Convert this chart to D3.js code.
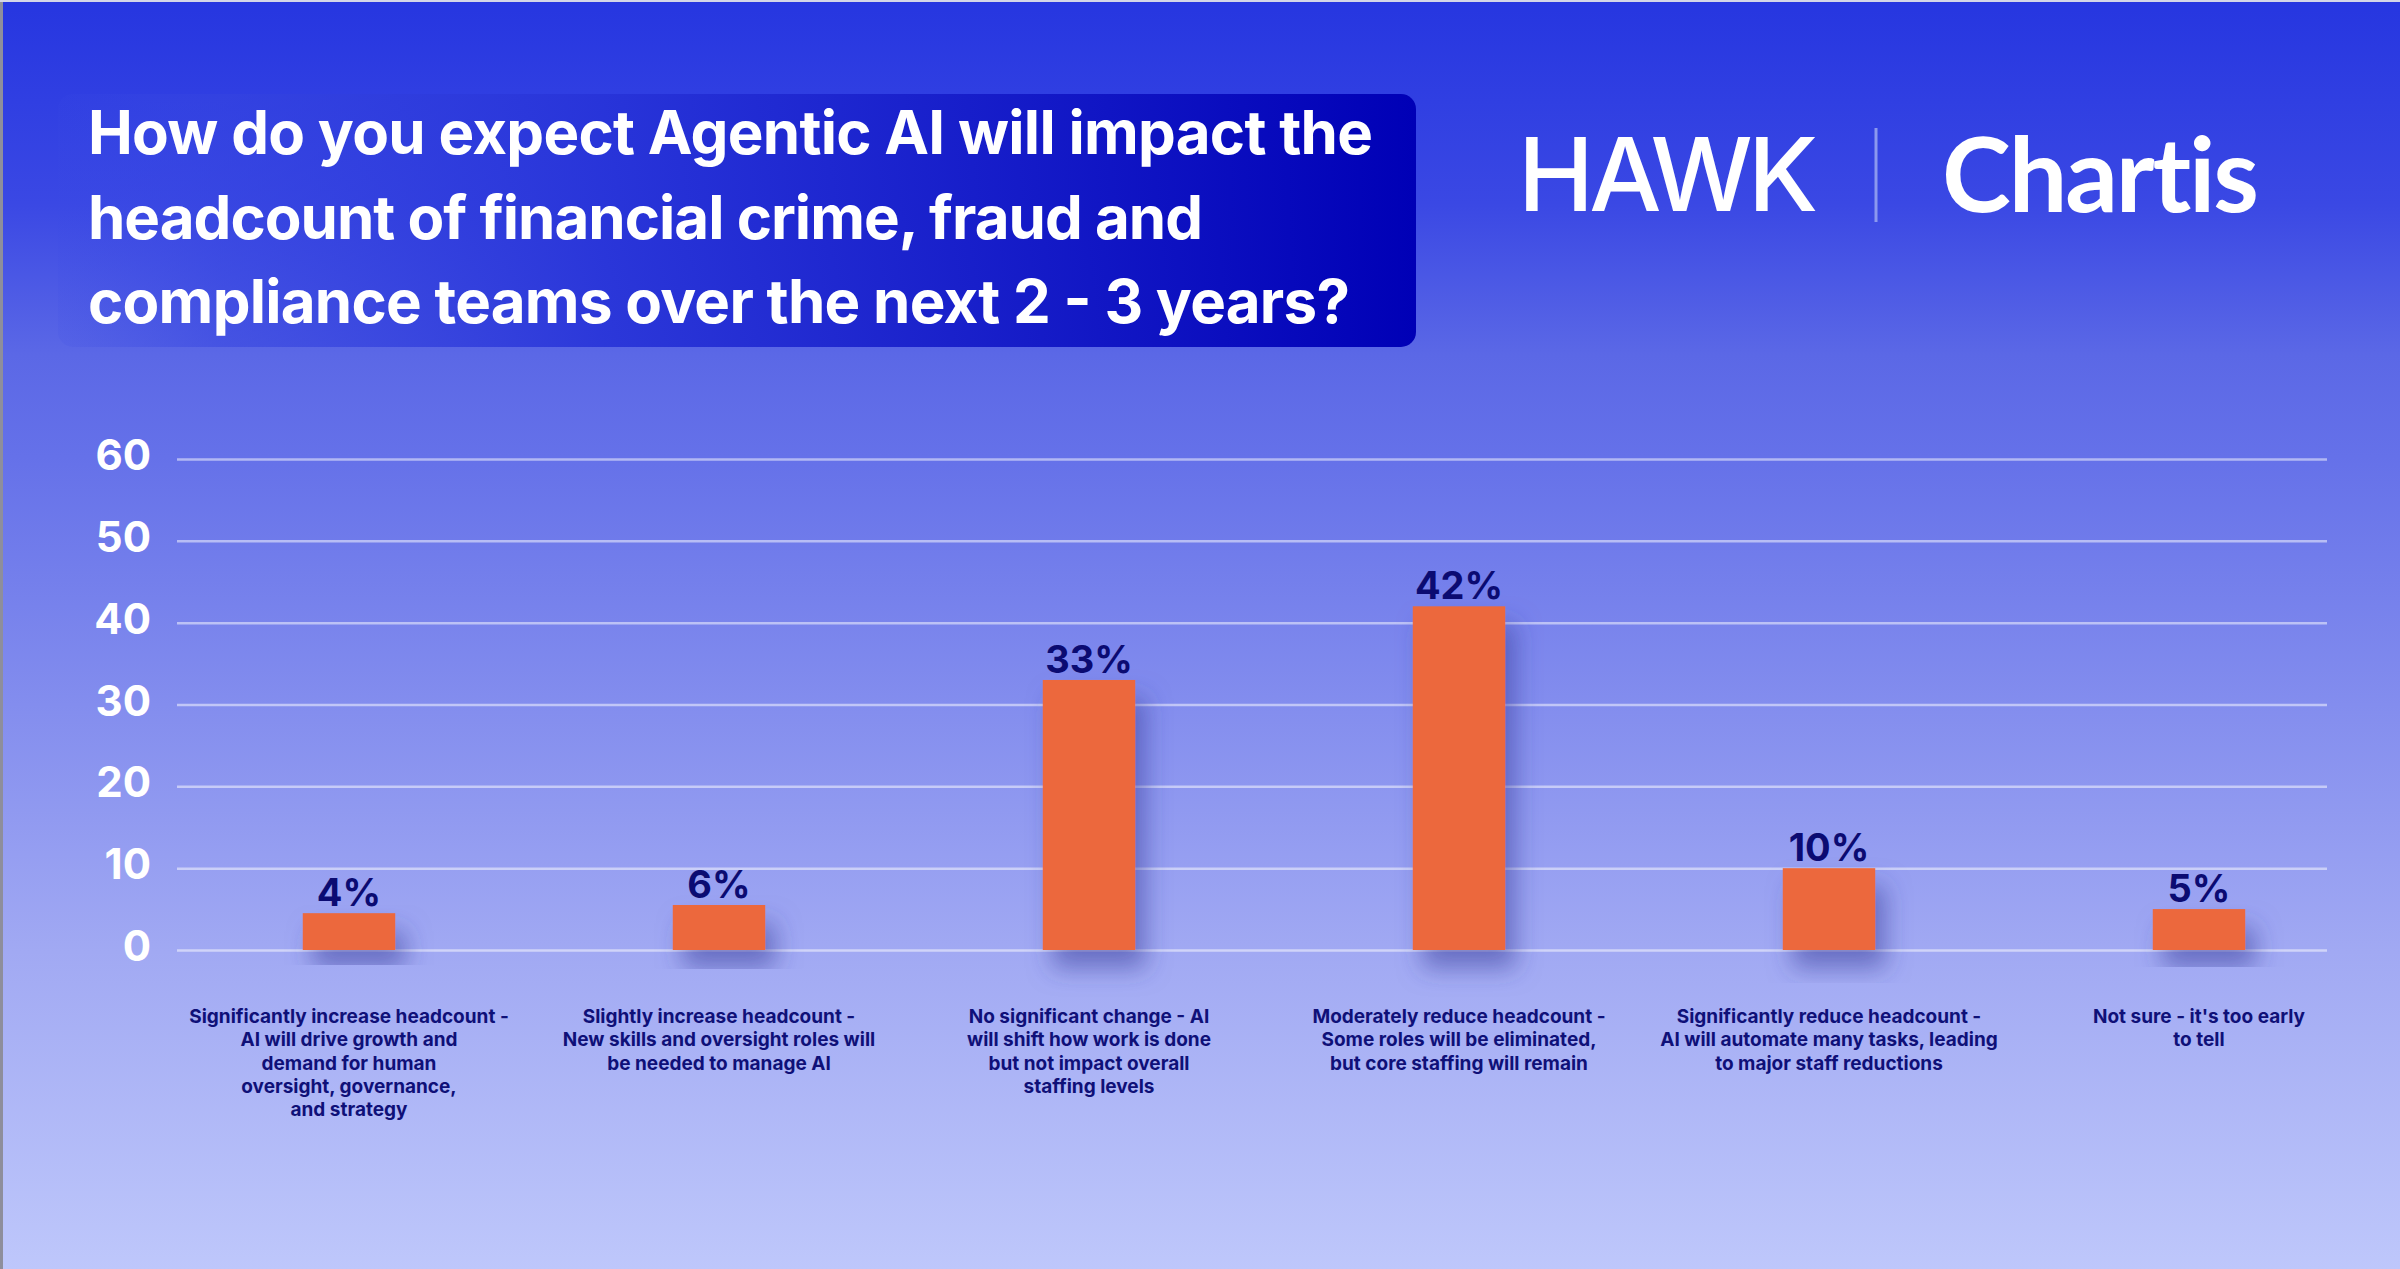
<!DOCTYPE html>
<html><head><meta charset="utf-8">
<script src="https://cdn.jsdelivr.net/npm/d3@7"></script>
<style>html,body{margin:0;padding:0;background:#fff;overflow:hidden}svg{display:block}</style>
</head><body>
<script>
// ---------- DATA ----------
const categories = [
  "Significantly increase headcount",
  "Slightly increase headcount",
  "No significant change",
  "Moderately reduce headcount",
  "Significantly reduce headcount",
  "Not sure"
];
const categoryLines = [
  ["Significantly increase headcount -", "AI will drive growth and", "demand for human", "oversight, governance,", "and strategy"],
  ["Slightly increase headcount -", "New skills and oversight roles will", "be needed to manage AI"],
  ["No significant change - AI", "will shift how work is done", "but not impact overall", "staffing levels"],
  ["Moderately reduce headcount -", "Some roles will be eliminated,", "but core staffing will remain"],
  ["Significantly reduce headcount -", "AI will automate many tasks, leading", "to major staff reductions"],
  ["Not sure - it's too early", "to tell"]
];
const values = [4.5, 5.5, 33, 42, 10, 5];
const valueLabels = ["4%", "6%", "33%", "42%", "10%", "5%"];
const yTicks = [0, 10, 20, 30, 40, 50, 60];
const titleLines = [
  "How do you expect Agentic AI will impact the",
  "headcount of financial crime, fraud and",
  "compliance teams over the next 2 - 3 years?"
];
const logoLeft = "HAWK";
const logoRight = "Chartis";

// ---------- LAYOUT ----------
const W = 2400, H = 1269;
const svg = d3.select("body").append("svg").attr("width", W).attr("height", H);
const defs = svg.append("defs");

const bg = defs.append("linearGradient").attr("id", "bg").attr("x1", 0).attr("y1", 0).attr("x2", 0).attr("y2", 1);
[[0, "#2636e0"], [0.16, "#3a48e4"], [0.28, "#5b68e6"], [0.36, "#6571e9"], [0.75, "#a1a9f3"], [1, "#bec7fb"]]
  .forEach(([o, c]) => bg.append("stop").attr("offset", o).attr("stop-color", c));

const box = defs.append("linearGradient").attr("id", "box").attr("x1", 0).attr("y1", 0).attr("x2", 1).attr("y2", 0);
[[0, "#3a4ae4", 0.12], [0.12, "#3544e0", 0.55], [0.4, "#2733d8", 0.9], [1, "#0000b6", 1]]
  .forEach(([o, c, a]) => box.append("stop").attr("offset", o).attr("stop-color", c).attr("stop-opacity", a));

const sh = defs.append("filter").attr("id", "shadow").attr("x", "-60%").attr("y", "-20%").attr("width", "260%").attr("height", "160%");
sh.append("feDropShadow").attr("dx", 10).attr("dy", 18).attr("stdDeviation", 12)
  .attr("flood-color", "#3b3f9c").attr("flood-opacity", 0.55);

svg.append("rect").attr("width", W).attr("height", H).attr("fill", "url(#bg)");
svg.append("rect").attr("x", 0).attr("y", 0).attr("width", 3).attr("height", H).attr("fill", "#8e8e9c");
svg.append("rect").attr("x", 0).attr("y", 0).attr("width", W).attr("height", 2).attr("fill", "#d4d6e8");

// Title box
svg.append("rect").attr("x", 58).attr("y", 94).attr("width", 1358).attr("height", 253)
  .attr("rx", 15).attr("fill", "url(#box)");
const titleWidths = [1285, 1115, 1262];
svg.append("g").selectAll("text").data(titleLines).join("text")
  .attr("x", 88).attr("y", (d, i) => 154 + i * 84.5)
  .attr("textLength", (d, i) => titleWidths[i]).attr("lengthAdjust", "spacing")
  .attr("fill", "#fff").attr("font-family", "Inter, 'Noto Sans', sans-serif")
  .attr("font-weight", 700).attr("font-size", 60).text(d => d);

// Logos
svg.append("text").attr("x", 1518).attr("y", 211).attr("textLength", 300).attr("lengthAdjust", "spacing")
  .attr("fill", "#fff").attr("font-family", "Inter, sans-serif").attr("font-weight", 500)
  .attr("font-size", 102).text(logoLeft);
svg.append("line").attr("x1", 1876).attr("x2", 1876).attr("y1", 128).attr("y2", 222)
  .attr("stroke", "#8b98ef").attr("stroke-width", 3);
svg.append("text").attr("x", 1942).attr("y", 212).attr("textLength", 317).attr("lengthAdjust", "spacing")
  .attr("fill", "#fff").attr("font-family", "Lato, sans-serif").attr("font-weight", 700)
  .style("font-variant-ligatures", "none")
  .attr("font-size", 104).text(logoRight);

// Scales
const y = d3.scaleLinear().domain([0, 60]).range([950, 459]);
const x = d3.scaleBand().domain(categories).range([164, 2384]).paddingInner(0.75).paddingOuter(0.375);
const gridLeft = 177, gridRight = 2327;

// Axis + gridlines
const axis = svg.append("g").attr("transform", `translate(${gridLeft},0)`)
  .call(d3.axisLeft(y).tickValues(yTicks).tickSize(-(gridRight - gridLeft)).tickPadding(26).tickFormat(d3.format("d")));
axis.select(".domain").remove();
axis.selectAll(".tick line").attr("stroke", "#ffffff").attr("stroke-opacity", 0.5).attr("stroke-width", 2.5);
axis.selectAll(".tick text").attr("fill", "#fff").attr("font-family", "Inter, sans-serif")
  .attr("font-weight", 700).attr("font-size", 42).attr("dy", "0.25em");

// Bars
svg.append("g").selectAll("rect").data(values).join("rect")
  .attr("x", (d, i) => x(categories[i])).attr("width", x.bandwidth())
  .attr("y", d => y(d)).attr("height", d => y(0) - y(d))
  .attr("fill", "#ec683c").attr("filter", "url(#shadow)");

// Value labels
svg.append("g").selectAll("text").data(values).join("text")
  .attr("x", (d, i) => x(categories[i]) + x.bandwidth() / 2).attr("y", d => y(d) - 7)
  .attr("text-anchor", "middle").attr("fill", "#0b0b72").attr("font-family", "Inter, sans-serif")
  .attr("font-weight", 700).attr("font-size", 38).text((d, i) => valueLabels[i]);

// Category labels
const cl = svg.append("g").selectAll("text").data(categories).join("text")
  .attr("x", d => x(d) + x.bandwidth() / 2).attr("y", 1023)
  .attr("text-anchor", "middle").attr("fill", "#0f1078").attr("font-family", "Inter, sans-serif")
  .attr("font-weight", 700).attr("font-size", 19);
cl.each(function (d, i) {
  const t = d3.select(this);
  const cx = x(d) + x.bandwidth() / 2;
  categoryLines[i].forEach((ln, j) => {
    t.append("tspan").attr("x", cx).attr("dy", j === 0 ? 0 : 23.3).text(ln);
  });
});
</script>
</body></html>
